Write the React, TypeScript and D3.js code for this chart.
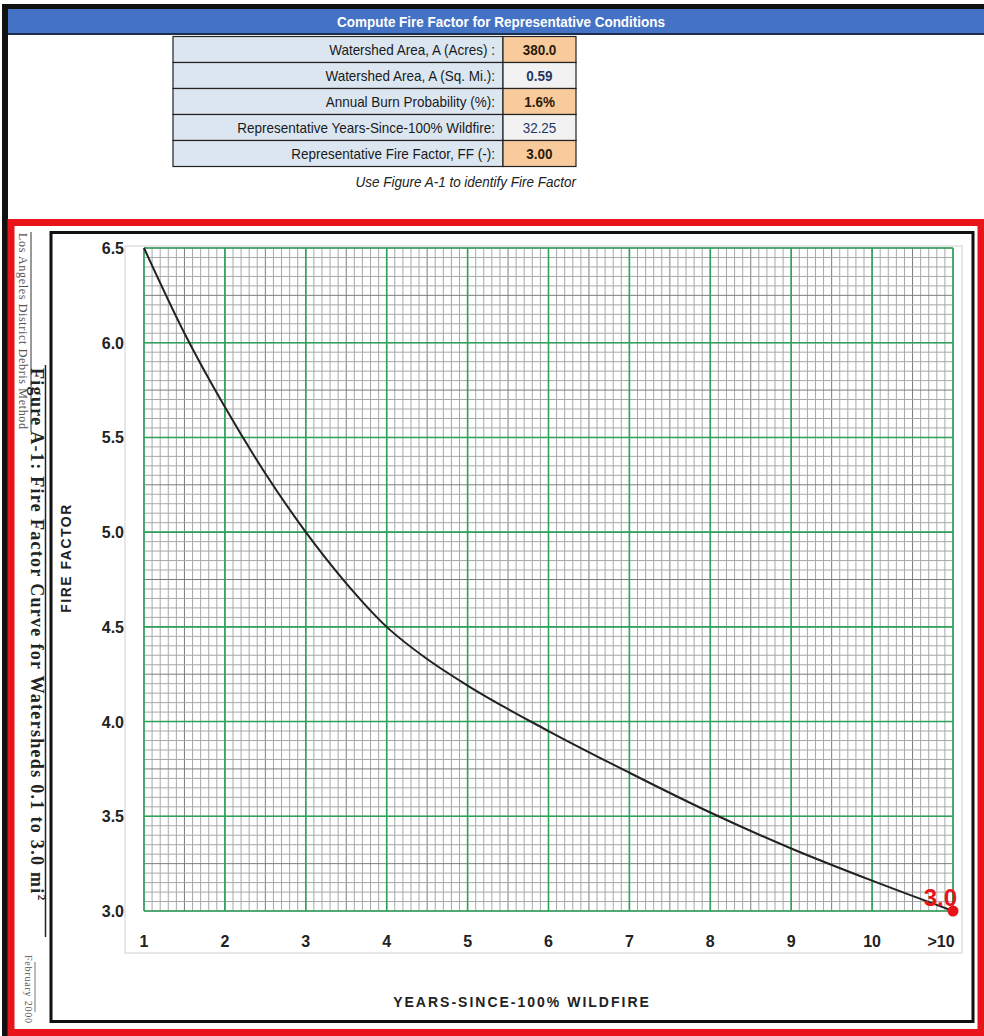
import React, { useRef, useEffect } from 'react'
import * as d3 from 'd3'

// table above the figure
const tableLabels = [
  'Watershed Area, A (Acres) :',
  'Watershed Area, A (Sq. Mi.):',
  'Annual Burn Probability (%):',
  'Representative Years-Since-100% Wildfire:',
  'Representative Fire Factor, FF (-):',
]
const tableValues = ['380.0', '0.59', '1.6%', '32.25', '3.00']
const tableIsInput = [true, false, true, false, true]

// figure A-1
const yearTicks = [1, 2, 3, 4, 5, 6, 7, 8, 9, 10, 11]
const yearLabels = ['1', '2', '3', '4', '5', '6', '7', '8', '9', '10', '>10']
const ffTicks = [3.0, 3.5, 4.0, 4.5, 5.0, 5.5, 6.0, 6.5]
const curveYears = [1, 1.5, 2, 2.5, 3, 3.5, 4, 4.5, 5, 6, 7, 8, 9, 10, 11]
const curveFF = [6.5, 6.05, 5.66, 5.31, 5.0, 4.73, 4.5, 4.33, 4.19, 3.95, 3.73, 3.52, 3.33, 3.16, 3.0]
const pickedYear = 11
const pickedFF = 3.0

const W = 984
const H = 1036
const sans = 'Liberation Sans, Arial, sans-serif'
const serif = 'Liberation Serif, Times New Roman, serif'
const squeeze = 0.9 // fake Arial Narrow

const FireFactor: React.FC = () => {
  const ref = useRef<SVGSVGElement>(null)

  useEffect(() => {
    const svg = d3.select(ref.current)
    svg.selectAll('*').remove()

    // page frame + header
    svg.append('rect').attr('x', 0).attr('y', 0).attr('width', W).attr('height', H).attr('fill', '#fff')
    svg.append('rect').attr('x', 2).attr('y', 4).attr('width', W - 2).attr('height', 5).attr('fill', '#111')
    svg.append('rect').attr('x', 2).attr('y', 4).attr('width', 6).attr('height', H - 4).attr('fill', '#111')
    svg.append('rect').attr('x', 8).attr('y', 9).attr('width', W - 8).attr('height', 24).attr('fill', '#4472C4')
    svg.append('rect').attr('x', 8).attr('y', 33).attr('width', W - 8).attr('height', 2).attr('fill', '#1c2c4c')
    svg
      .append('text')
      .attr('transform', `translate(501,27) scale(${squeeze},1)`)
      .attr('text-anchor', 'middle')
      .attr('font-family', sans)
      .attr('font-weight', 'bold')
      .attr('font-size', 15)
      .attr('fill', '#fff')
      .text('Compute Fire Factor for Representative Conditions')

    // table
    const rowY = d3.scaleBand<number>().domain(d3.range(tableLabels.length)).range([36.5, 166.5])
    const tLeft = 173
    const tMid = 503
    const tRight = 576
    const rows = svg.append('g').selectAll('g').data(tableLabels).join('g')
    rows
      .append('rect')
      .attr('x', tLeft)
      .attr('y', (_, i) => rowY(i)!)
      .attr('width', tMid - tLeft)
      .attr('height', rowY.bandwidth())
      .attr('fill', '#DCE6F1')
      .attr('stroke', '#222')
      .attr('stroke-width', 1.2)
    rows
      .append('rect')
      .attr('x', tMid)
      .attr('y', (_, i) => rowY(i)!)
      .attr('width', tRight - tMid)
      .attr('height', rowY.bandwidth())
      .attr('fill', (_, i) => (tableIsInput[i] ? '#F9CB9C' : '#F2F2F2'))
      .attr('stroke', '#222')
      .attr('stroke-width', 1.2)
    rows
      .append('text')
      .attr('transform', (_, i) => `translate(${tMid - 8},${rowY(i)! + 18.5}) scale(${squeeze},1)`)
      .attr('text-anchor', 'end')
      .attr('font-family', sans)
      .attr('font-size', 15)
      .attr('fill', '#1a1a1a')
      .text(d => d)
    rows
      .append('text')
      .attr('transform', (_, i) => `translate(${(tMid + tRight) / 2},${rowY(i)! + 18.5}) scale(${squeeze},1)`)
      .attr('text-anchor', 'middle')
      .attr('font-family', sans)
      .attr('font-size', 15)
      .attr('font-weight', (_, i) => (i === 3 ? 'normal' : 'bold'))
      .attr('fill', (_, i) => (tableIsInput[i] ? '#2a1a0a' : '#1F3864'))
      .text((_, i) => tableValues[i])
    svg
      .append('text')
      .attr('transform', `translate(${tRight},187) scale(${squeeze},1)`)
      .attr('text-anchor', 'end')
      .attr('font-family', sans)
      .attr('font-style', 'italic')
      .attr('font-size', 15)
      .attr('fill', '#222')
      .text('Use Figure A-1 to identify Fire Factor')

    // red frame + figure border
    svg
      .append('rect')
      .attr('x', 11)
      .attr('y', 222.5)
      .attr('width', 970)
      .attr('height', 810)
      .attr('fill', 'none')
      .attr('stroke', '#e8141a')
      .attr('stroke-width', 7)
    svg
      .append('rect')
      .attr('x', 51)
      .attr('y', 232.5)
      .attr('width', 922)
      .attr('height', 789)
      .attr('fill', 'none')
      .attr('stroke', '#111')
      .attr('stroke-width', 3)

    // side captions of the scanned page
    svg
      .append('text')
      .attr('transform', 'translate(19,233) rotate(90)')
      .attr('font-family', serif)
      .attr('font-size', 12)
      .attr('fill', '#555')
      .attr('textLength', 196)
      .attr('lengthAdjust', 'spacing')
      .text('Los Angeles District Debris Method')
    svg.append('line').attr('x1', 31).attr('x2', 31).attr('y1', 232).attr('y2', 432).attr('stroke', '#555').attr('stroke-width', 1.2)
    const title = svg
      .append('text')
      .attr('transform', 'translate(31,368) rotate(90)')
      .attr('font-family', serif)
      .attr('font-weight', 'bold')
      .attr('font-size', 18)
      .attr('letter-spacing', 1.3)
      .attr('fill', '#222')
    title.append('tspan').text('Figure A-1:  Fire Factor Curve for Watersheds 0.1 to 3.0 mi')
    title.append('tspan').attr('font-size', 11).attr('dy', -7).text('2')
    svg.append('line').attr('x1', 45.5).attr('x2', 45.5).attr('y1', 365).attr('y2', 937).attr('stroke', '#222').attr('stroke-width', 1.5)
    svg
      .append('text')
      .attr('transform', 'translate(25,955) rotate(90)')
      .attr('font-family', serif)
      .attr('font-size', 10)
      .attr('fill', '#555')
      .attr('textLength', 68)
      .attr('lengthAdjust', 'spacing')
      .text('February 2000')
    svg.append('line').attr('x1', 35).attr('x2', 35).attr('y1', 962).attr('y2', 1012).attr('stroke', '#777').attr('stroke-width', 1)

    // chart
    const x = d3.scaleLinear().domain([1, 11]).range([144, 953])
    const y = d3.scaleLinear().domain([3, 6.5]).range([911, 248])

    svg
      .append('rect')
      .attr('x', 125)
      .attr('y', 246)
      .attr('width', 837)
      .attr('height', 707)
      .attr('fill', 'none')
      .attr('stroke', '#d8d8d8')
      .attr('stroke-width', 1.2)

    const grid = svg.append('g')
    const xMinor = d3.range(0, 101).map(i => 1 + i / 10)
    const yMinor = d3.range(0, 71).map(i => 3 + i * 0.05)
    grid
      .selectAll('line.xm')
      .data(xMinor)
      .join('line')
      .attr('x1', d => x(d))
      .attr('x2', d => x(d))
      .attr('y1', y(6.5))
      .attr('y2', y(3))
      .attr('stroke', (_, i) => (i % 5 === 0 ? '#7c7c7c' : '#a8a8a8'))
      .attr('stroke-width', 1)
    grid
      .selectAll('line.ym')
      .data(yMinor)
      .join('line')
      .attr('x1', x(1))
      .attr('x2', x(11))
      .attr('y1', d => y(d))
      .attr('y2', d => y(d))
      .attr('stroke', (_, i) => (i % 5 === 0 ? '#7c7c7c' : '#a8a8a8'))
      .attr('stroke-width', 1)
    grid
      .selectAll('line.xM')
      .data(yearTicks)
      .join('line')
      .attr('x1', d => x(d))
      .attr('x2', d => x(d))
      .attr('y1', y(6.5))
      .attr('y2', y(3))
      .attr('stroke', '#2fa35c')
      .attr('stroke-width', 1.6)
    grid
      .selectAll('line.yM')
      .data(ffTicks)
      .join('line')
      .attr('x1', x(1))
      .attr('x2', x(11))
      .attr('y1', d => y(d))
      .attr('y2', d => y(d))
      .attr('stroke', '#2fa35c')
      .attr('stroke-width', 1.6)

    // tick labels
    svg
      .append('g')
      .selectAll('text')
      .data(ffTicks)
      .join('text')
      .attr('x', 124)
      .attr('y', d => y(d) + 6)
      .attr('text-anchor', 'end')
      .attr('font-family', sans)
      .attr('font-weight', 'bold')
      .attr('font-size', 16)
      .attr('fill', '#222')
      .text(d => d.toFixed(1))
    svg
      .append('g')
      .selectAll('text')
      .data(yearTicks)
      .join('text')
      .attr('x', (d, i) => x(d) - (i === yearTicks.length - 1 ? 12 : 0))
      .attr('y', 947)
      .attr('text-anchor', 'middle')
      .attr('font-family', sans)
      .attr('font-weight', 'bold')
      .attr('font-size', 16)
      .attr('fill', '#222')
      .text((_, i) => yearLabels[i])

    // axis titles
    svg
      .append('text')
      .attr('transform', 'translate(71,558) rotate(-90)')
      .attr('text-anchor', 'middle')
      .attr('font-family', sans)
      .attr('font-weight', 'bold')
      .attr('font-size', 14)
      .attr('letter-spacing', 1.5)
      .attr('fill', '#222')
      .text('FIRE FACTOR')
    svg
      .append('text')
      .attr('x', 522)
      .attr('y', 1007)
      .attr('text-anchor', 'middle')
      .attr('font-family', sans)
      .attr('font-weight', 'bold')
      .attr('font-size', 14)
      .attr('letter-spacing', 2)
      .attr('fill', '#222')
      .text('YEARS-SINCE-100% WILDFIRE')

    // curve
    const pts = curveYears.map((yr, i) => [yr, curveFF[i]] as [number, number])
    const line = d3
      .line<[number, number]>()
      .x(d => x(d[0]))
      .y(d => y(d[1]))
      .curve(d3.curveMonotoneX)
    svg
      .append('path')
      .attr('d', line(pts))
      .attr('fill', 'none')
      .attr('stroke', '#222')
      .attr('stroke-width', 2)

    // picked point
    svg
      .append('text')
      .attr('x', x(pickedYear) + 4)
      .attr('y', y(pickedFF) - 5)
      .attr('text-anchor', 'end')
      .attr('font-family', sans)
      .attr('font-weight', 'bold')
      .attr('font-size', 24)
      .attr('fill', '#e8141a')
      .text(pickedFF.toFixed(1))
    svg
      .append('circle')
      .attr('cx', x(pickedYear))
      .attr('cy', y(pickedFF))
      .attr('r', 5.5)
      .attr('fill', '#e8141a')
  }, [])

  return <svg ref={ref} width={W} height={H} style={{ display: 'block' }}></svg>
}

const App: React.FC = () => {
  return (
    <div style={{ position: 'absolute', left: 0, top: 0 }}>
      <FireFactor />
    </div>
  )
}

export default App
